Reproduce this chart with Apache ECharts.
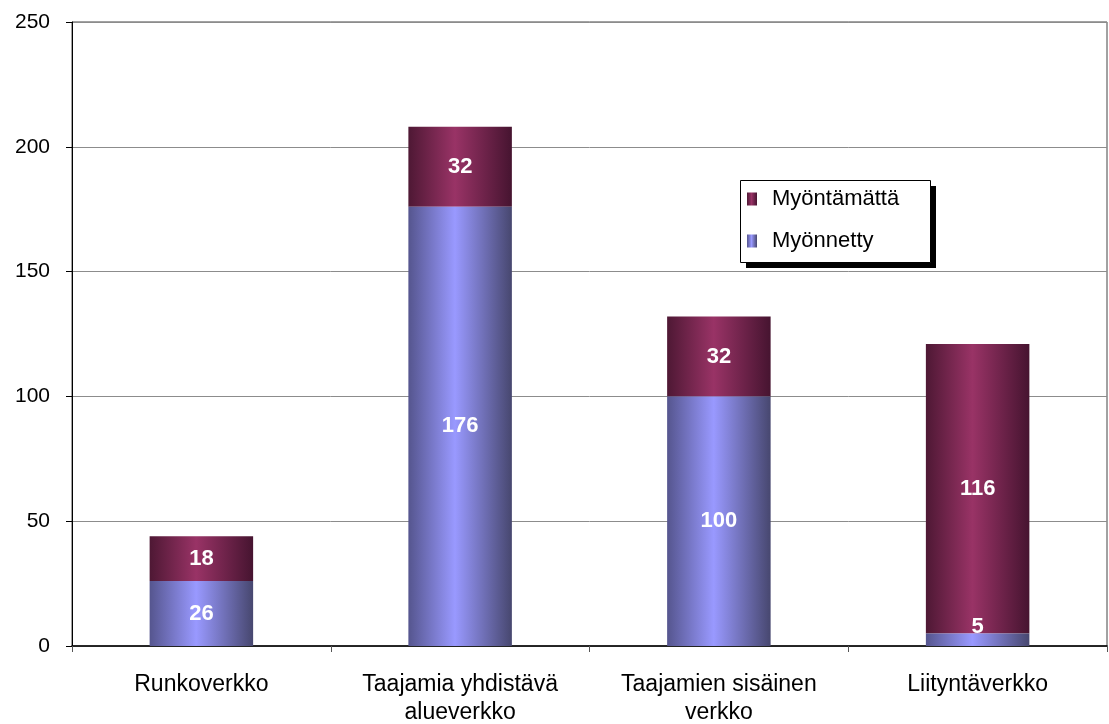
<!DOCTYPE html>
<html>
<head>
<meta charset="utf-8">
<script src="https://cdn.jsdelivr.net/npm/echarts@6/dist/echarts.min.js"></script>
<style>
  html, body { margin: 0; padding: 0; background: #fff; }
  #chart { width: 1109px; height: 724px; }
</style>
</head>
<body>
<div id="chart"></div>
<script>
// 数据
const categories = ['Runkoverkko', 'Taajamia yhdistävä\nalueverkko', 'Taajamien sisäinen\nverkko', 'Liityntäverkko']
const myonnetty = [26, 176, 100, 5]
const myontamatta = [18, 32, 32, 116]
const seriesNames = ['Myöntämättä', 'Myönnetty']

const font = 'Liberation Sans, Arial, sans-serif'

const blueGrad = new echarts.graphic.LinearGradient(0, 0, 1, 0, [
  { offset: 0, color: '#55558e' },
  { offset: 0.45, color: '#9999ff' },
  { offset: 1, color: '#47476f' }
])
const maroonGrad = new echarts.graphic.LinearGradient(0, 0, 1, 0, [
  { offset: 0, color: '#4e1834' },
  { offset: 0.45, color: '#993366' },
  { offset: 1, color: '#461430' }
])

const barLabel = {
  show: true,
  position: 'inside',
  color: '#fff',
  fontFamily: font,
  fontWeight: 'bold',
  fontSize: 22
}

const chart = echarts.init(document.getElementById('chart'))

const option = {
  animation: false,
  grid: {
    left: 72,
    right: 2,
    top: 22,
    bottom: 78,
    outerBoundsMode: 'none',
    show: true,
    borderColor: '#444',
    borderWidth: 1
  },
  // 图例外框和阴影
  graphic: [
    {
      type: 'rect',
      left: 746,
      top: 186,
      shape: { width: 190, height: 82 },
      style: { fill: '#000' },
      z: 10
    },
    {
      type: 'rect',
      left: 740,
      top: 180,
      shape: { width: 190, height: 82 },
      style: { fill: '#fff', stroke: '#000', lineWidth: 1 },
      z: 11
    }
  ],
  legend: {
    data: seriesNames,
    orient: 'vertical',
    left: 747,
    top: 188,
    padding: 0,
    itemGap: 20,
    itemWidth: 10,
    itemHeight: 13,
    icon: 'rect',
    z: 20,
    textStyle: { fontFamily: font, fontSize: 22, color: '#000', padding: [0, 0, 0, 10] }
  },
  xAxis: {
    type: 'category',
    data: categories,
    axisLine: { lineStyle: { color: '#000', width: 1.5 } },
    axisTick: { show: true, length: 6, lineStyle: { color: '#555' } },
    axisLabel: {
      color: '#000',
      fontFamily: font,
      fontSize: 23,
      lineHeight: 28,
      margin: 25,
      interval: 0
    }
  },
  yAxis: {
    type: 'value',
    min: 0,
    max: 250,
    interval: 50,
    axisLine: { show: true, lineStyle: { color: '#000', width: 1 } },
    axisTick: { show: true, length: 6, lineStyle: { color: '#000' } },
    axisLabel: { color: '#000', fontFamily: font, fontSize: 21, margin: 22 },
    splitLine: { lineStyle: { color: '#8c8c8c', width: 1 } }
  },
  series: [
    {
      name: 'Myönnetty',
      type: 'bar',
      stack: 'total',
      barWidth: '40%',
      data: myonnetty.map((v, i) => i === 3 ? { value: v, label: { offset: [0, -13] } } : v),
      itemStyle: { color: blueGrad },
      label: barLabel,
      z: 3
    },
    {
      name: 'Myöntämättä',
      type: 'bar',
      stack: 'total',
      barWidth: '40%',
      data: myontamatta,
      itemStyle: { color: maroonGrad },
      label: barLabel,
      z: 2
    }
  ]
}

chart.setOption(option)
</script>
</body>
</html>
